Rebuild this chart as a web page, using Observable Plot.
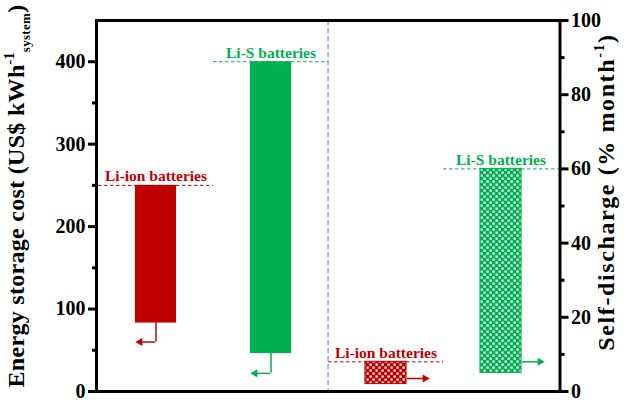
<!DOCTYPE html>
<html>
<head>
<meta charset="utf-8">
<script src="https://cdn.jsdelivr.net/npm/d3@7"></script>
<script src="https://cdn.jsdelivr.net/npm/@observablehq/plot@0.6"></script>
<style>
  html, body { margin: 0; padding: 0; background: #fff; }
</style>
</head>
<body>
<div id="chart"></div>
<script>
// ---- data ----
const categories = ["Li-ion cost", "Li-S cost", "Li-ion self-discharge", "Li-S self-discharge"];
const labels = ["Li-ion batteries", "Li-S batteries", "Li-ion batteries", "Li-S batteries"];
// energy storage cost, US$ kWh-1 (left axis)
const costLow = [83, 46];
const costHigh = [250, 400];
const costArrowAt = [60, 22];
// self-discharge, % month-1 (right axis)
const sdLow = [2, 5];
const sdHigh = [8, 60];
const sdArrowAt = [3.5, 8];
const costTicks = [0, 100, 200, 300, 400];
const costMinor = [50, 150, 250, 350];
const sdTicks = [0, 20, 40, 60, 80, 100];
const sdMinor = [10, 30, 50, 70, 90];
const costMax = 450, sdMax = 100;

// ---- layout / style ----
const W = 629, H = 400, mL = 96, mR = 69.5, mT = 20, mB = 9;
const step = (W - mL - mR) / categories.length;
const barW = 42;
const RED = "#C00000", GREEN = "#00B050", BLUE = "#4F7FC0";
const FONT = "'Liberation Serif', 'Times New Roman', 'DejaVu Serif', serif";
const k = costMax / sdMax; // self-discharge -> left scale units

const colorOf = (i) => (labels[i].startsWith("Li-ion") ? RED : GREEN);
const rows = categories.map((c, i) => {
  const isCost = i < 2;
  const j = isCost ? i : i - 2;
  return {
    cat: c, label: labels[i], color: colorOf(i), isCost,
    low: isCost ? costLow[j] : sdLow[j] * k,
    high: isCost ? costHigh[j] : sdHigh[j] * k,
    arrow: isCost ? costArrowAt[j] : sdArrowAt[j] * k,
    fill: isCost ? colorOf(i) : (colorOf(i) === RED ? "url(#chkRed)" : "url(#chkGreen)")
  };
});
const costRows = rows.filter(d => d.isCost);
const sdRows = rows.filter(d => !d.isCost);

const NS = "http://www.w3.org/2000/svg";
function defs() {
  const g = document.createElementNS(NS, "defs");
  const pat = (id, col) => `<pattern id="${id}" width="6" height="6" patternUnits="userSpaceOnUse">
      <rect width="6" height="6" fill="${col}"/>
      <rect x="0.5" y="0.5" width="2.2" height="2.2" fill="#fff"/>
      <rect x="3.5" y="3.5" width="2.2" height="2.2" fill="#fff"/>
    </pattern>`;
  g.innerHTML = pat("chkRed", RED) + pat("chkGreen", GREEN);
  return g;
}
function title(x, y, size, spacing, parts) {
  const t = document.createElementNS(NS, "text");
  t.setAttribute("transform", `translate(${x},${y}) rotate(-90)`);
  t.setAttribute("text-anchor", "middle");
  t.style.fontFamily = FONT;
  t.style.letterSpacing = spacing + "px";
  t.setAttribute("font-weight", "bold");
  t.setAttribute("font-size", size);
  t.setAttribute("fill", "#000");
  for (const p of parts) {
    const s = document.createElementNS(NS, "tspan");
    s.textContent = p.text;
    if (p.size) s.setAttribute("font-size", p.size);
    if (p.dy) s.setAttribute("dy", p.dy);
    t.appendChild(s);
  }
  return t;
}

const chart = Plot.plot({
  width: W, height: H,
  marginLeft: mL, marginRight: mR, marginTop: mT, marginBottom: mB,
  style: { fontFamily: FONT, background: "#fff", overflow: "visible" },
  x: { type: "band", domain: categories, padding: 0, axis: null },
  y: { domain: [0, costMax] },
  marks: [
    defs,
    // bars
    Plot.barY(rows, {
      x: "cat", y1: "low", y2: "high", fill: "fill",
      stroke: d => d.isCost ? "none" : d.color, strokeWidth: 1,
      insetLeft: (step - barW) / 2, insetRight: (step - barW) / 2
    }),
    // dashed reference lines at bar tops
    Plot.tickY(rows, { x: "cat", y: "high", stroke: "color", strokeWidth: 1, strokeDasharray: "3.5,2.5" }),
    // cost arrows (down then left)
    Plot.ruleX(costRows, { x: "cat", y1: "low", y2: "arrow", stroke: "color", strokeWidth: 1.5 }),
    Plot.tickY(costRows, { x: "cat", y: "arrow", stroke: "color", strokeWidth: 1.5, insetLeft: step / 2 - 16, insetRight: step / 2 }),
    Plot.dot(costRows, { x: "cat", y: "arrow", dx: -16, symbol: "triangle", rotate: -90, r: 3, fill: "color", stroke: "none" }),
    // self-discharge arrows (right)
    Plot.tickY(sdRows, { x: "cat", y: "arrow", stroke: "color", strokeWidth: 1.5, insetLeft: step / 2 + barW / 2, insetRight: step / 2 - barW / 2 - 17 }),
    Plot.dot(sdRows, { x: "cat", y: "arrow", dx: barW / 2 + 18, symbol: "triangle", rotate: 90, r: 3, fill: "color", stroke: "none" }),
    // labels
    Plot.text(rows, { x: "cat", y: "high", text: "label", fill: "color", lineAnchor: "bottom", dy: -4,
      fontSize: 15.5, fontWeight: "bold", fontFamily: FONT }),
    // divider between the two panels
    Plot.ruleX([categories[2]], { dx: -step / 2, stroke: BLUE, strokeWidth: 1, strokeDasharray: "5,3" }),
    // frame
    Plot.frame({ stroke: "#000", strokeWidth: 3 }),
    // left axis
    Plot.axisY(costMinor, { anchor: "left", tickSize: 4, tickFormat: () => "", strokeWidth: 3, label: null }),
    Plot.axisY(costTicks, { anchor: "left", tickSize: 8, tickPadding: 3, strokeWidth: 3, label: null,
      fontSize: 20, fontWeight: "bold", fontFamily: FONT, fill: "#000" }),
    // right axis (self-discharge, % month-1)
    Plot.axisY(sdMinor.map(v => v * k), { anchor: "right", tickSize: 4, tickFormat: () => "", strokeWidth: 3, label: null }),
    Plot.axisY(sdTicks.map(v => v * k), { anchor: "right", tickSize: 8, tickPadding: 3, strokeWidth: 3, label: null,
      tickFormat: d => String(Math.round(d / k)),
      fontSize: 20, fontWeight: "bold", fontFamily: FONT, fill: "#000" }),
    // axis titles
    () => title(24, 196, 24, 0.3, [
      { text: "Energy storage cost (US$ kWh" },
      { text: "-1", size: 14, dy: -10 },
      { text: "system", size: 13, dy: 16 },
      { text: ")", dy: -6 }
    ]),
    () => title(614, 192, 24, 1.6, [
      { text: "Self-discharge (% month" },
      { text: "-1", size: 14, dy: -10 },
      { text: ")", dy: 10 }
    ])
  ]
});
document.getElementById("chart").appendChild(chart);
</script>
</body>
</html>
